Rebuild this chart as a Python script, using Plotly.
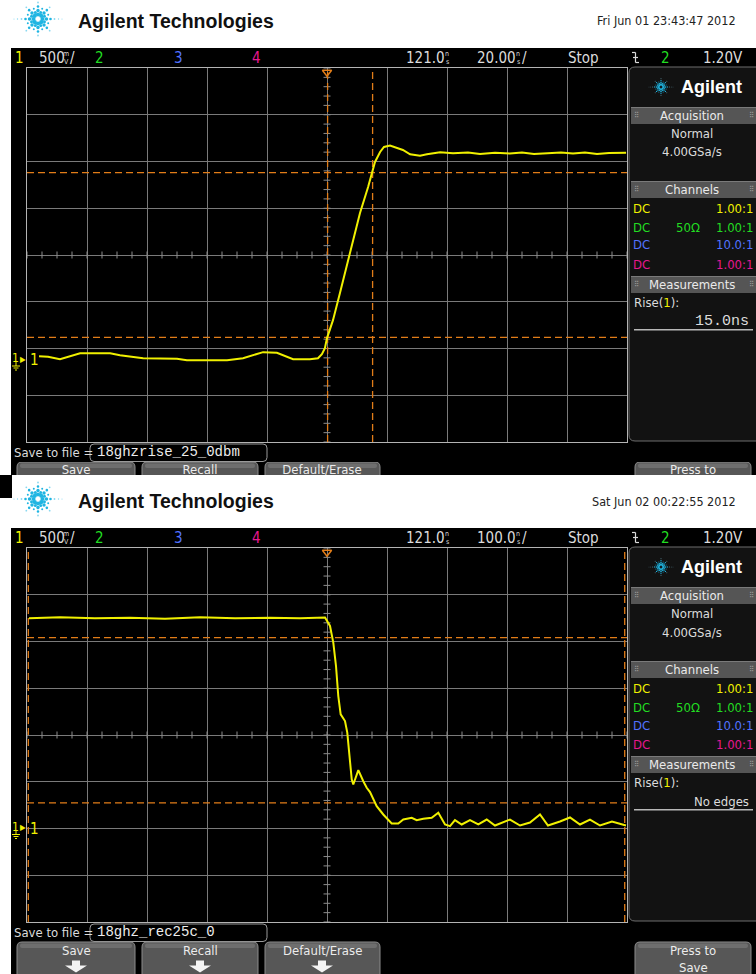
import numpy as np
import plotly.graph_objects as go

W, H = 756, 974

# ---------------- data ----------------
# upper capture: 20 ns/div, 500 mV/div, rising edge
top_t = [25.0, 28.0, 32.0, 38.7, 48.7, 52.0, 59.7, 71.0, 74.3, 87.7, 93.0, 99.7, 104.3, 109.7,
         115.3, 118.0, 119.3, 120.3, 121.0, 123.0, 125.3, 128.7, 132.0, 134.7, 137.0, 138.7,
         140.0, 142.0, 144.3, 146.3, 148.7, 152.0, 154.3, 158.7, 163.0, 168.0, 172.0, 177.0,
         182.0, 186.0, 190.0, 195.0, 199.0, 203.0, 207.0, 211.0, 215.0, 220.7]
top_v = [0.043, 0.037, 0.011, 0.075, 0.075, 0.054, 0.021, 0.016, 0.000, 0.000, 0.021, 0.086,
         0.080, 0.011, 0.011, 0.021, 0.064, 0.128, 0.236, 0.428, 0.717, 1.146, 1.574, 1.852,
         2.120, 2.227, 2.281, 2.295, 2.267, 2.248, 2.202, 2.187, 2.202, 2.224, 2.213, 2.220,
         2.205, 2.218, 2.210, 2.220, 2.205, 2.215, 2.220, 2.210, 2.222, 2.205, 2.215, 2.218]
top_levels = [0.243, 2.005]        # measurement thresholds (V)
top_cursors = [121.2, 136.2]       # measurement time markers (ns)

# lower capture: 100 ns/div, 500 mV/div, falling edge
bot_t = [-375.7, -324.0, -265.7, -207.3, -149.0, -90.7, -32.3, 26.0, 76.0, 117.7, 126.0, 131.5,
         136.0, 139.8, 143.8, 151.0, 154.8, 158.2, 162.2, 164.8, 169.3, 173.2, 181.5, 187.2,
         192.7, 203.8, 214.8, 228.8, 239.8, 248.2, 262.2, 270.5, 281.5, 295.5, 306.5, 317.7,
         326.0, 334.3, 345.5, 359.3, 373.2, 387.2, 401.0, 409.3, 426.0, 442.7, 459.3, 476.0,
         489.3, 509.3, 526.0, 542.7, 559.3, 576.0, 596.0, 619.3]
bot_v = [2.248, 2.259, 2.248, 2.254, 2.243, 2.259, 2.248, 2.254, 2.248, 2.256, 2.166, 1.988,
         1.738, 1.417, 1.221, 1.149, 1.025, 0.774, 0.525, 0.471, 0.560, 0.624, 0.506, 0.436,
         0.389, 0.239, 0.150, 0.054, 0.054, 0.096, 0.115, 0.089, 0.104, 0.115, 0.168, 0.043,
         0.025, 0.089, 0.043, 0.089, 0.043, 0.096, 0.032, 0.054, 0.096, 0.032, 0.064, 0.150,
         0.032, 0.075, 0.118, 0.043, 0.096, 0.032, 0.075, 0.032]
bot_levels = [0.275, 2.042]
bot_cursors = [-376.8, 617.2]

top_xrange, top_yrange = [21, 221], [-0.875, 3.125]
bot_xrange, bot_yrange = [-379, 621], [-1.0, 3.0]
top_tdiv, bot_tdiv, vdiv = 20, 100, 0.5
trig_t = 121.0

button_labels = ["Save", "Recall", "Default/Erase", "Press to"]

# ---------------- helpers ----------------
NARROW = "Liberation Sans Narrow, DejaVu Sans Condensed, Arial Narrow, sans-serif"
MONO = "Liberation Mono, DejaVu Sans Mono, monospace"
SANS = "Liberation Sans, Arial, sans-serif"
YEL, GRN, BLU, MAG = "#f0f000", "#22dd22", "#5272ff", "#e5178f"
ORANGE = "#e27d18"
LIGHT = "#dcdcdc"

def X(p): return p / W
def Y(p): return 1 - p / H

shapes, anns = [], []

def rect(x0, y0, x1, y1, fill, line=None, lw=0, layer="below"):
    shapes.append(dict(type="rect", xref="paper", yref="paper", x0=X(x0), x1=X(x1),
                       y0=Y(y1), y1=Y(y0), fillcolor=fill,
                       line=dict(color=line or fill, width=lw), layer=layer))

def rrect(x0, y0, x1, y1, r, fill, line, lw=1, layer="below", ref=None):
    fx, fy = (X, Y) if ref is None else ((lambda v: v), (lambda v: v))
    p = (f"M {fx(x0+r)},{fy(y0)} L {fx(x1-r)},{fy(y0)} Q {fx(x1)},{fy(y0)} {fx(x1)},{fy(y0+r)} "
         f"L {fx(x1)},{fy(y1-r)} Q {fx(x1)},{fy(y1)} {fx(x1-r)},{fy(y1)} L {fx(x0+r)},{fy(y1)} "
         f"Q {fx(x0)},{fy(y1)} {fx(x0)},{fy(y1-r)} L {fx(x0)},{fy(y0+r)} Q {fx(x0)},{fy(y0)} {fx(x0+r)},{fy(y0)} Z")
    xr, yr = ("paper", "paper") if ref is None else ref
    shapes.append(dict(type="path", xref=xr, yref=yr, path=p, fillcolor=fill,
                       line=dict(color=line, width=lw), layer=layer))

def poly(pts, fill, layer="below"):
    p = "M " + " L ".join(f"{X(a)},{Y(b)}" for a, b in pts) + " Z"
    shapes.append(dict(type="path", xref="paper", yref="paper", path=p, fillcolor=fill,
                       line=dict(color=fill, width=0), layer=layer))

def seg(x0, y0, x1, y1, color, w=1):
    shapes.append(dict(type="line", xref="paper", yref="paper", x0=X(x0), y0=Y(y0),
                       x1=X(x1), y1=Y(y1), line=dict(color=color, width=w), layer="above"))

def dot(x, y, d, color):
    shapes.append(dict(type="circle", xref="paper", yref="paper", x0=X(x-d/2), x1=X(x+d/2),
                       y0=Y(y+d/2), y1=Y(y-d/2), fillcolor=color,
                       line=dict(width=0), layer="above"))

def text(x, y, s, size=13, color=LIGHT, anchor="left", family=NARROW, pad=0):
    anns.append(dict(xref="paper", yref="paper", x=X(x), y=Y(y), text=s, showarrow=False,
                     xanchor=anchor, yanchor="middle", borderpad=pad,
                     font=dict(size=size, color=color, family=family)))

def logo(cx, cy, s, c1="#1fb5e2", c2="#8ad8f0"):
    for ang in range(0, 360, 45):
        a = np.radians(ang)
        radii = [4.5, 8.5, 12.5, 16.5]
        sizes = [4.2, 3.4, 2.6, 1.8]
        if ang % 180 == 0:
            radii += [20.5, 24]
            sizes += [1.4, 1.1]
        for k, (r, d) in enumerate(zip(radii, sizes)):
            dot(cx + s*r*np.cos(a), cy - s*r*np.sin(a), s*d, c1 if k < 3 else c2)
    for ang in np.arange(22.5, 360, 45):
        a = np.radians(ang)
        for r, d in zip([7.0, 11.0], [3.0, 2.0]):
            dot(cx + s*r*np.cos(a), cy - s*r*np.sin(a), s*d, c1)

BTN_X = [(17, 135), (142, 258), (265, 380), (635, 751)]
BTN_CX = [76, 200, 322, 693]

def button(x0, x1, y0, y1, ref=None):
    rrect(x0, y0, x1, y1, 5, "#575757", "#8c8c8c", 1, ref=ref)
    rrect(x0+3, y0+1.5, x1-3, y0+6, 2, "#6e6e6e", "#6e6e6e", 0, ref=ref)

def arrow(cx, cy):
    poly([(cx-4, cy-6), (cx+4, cy-6), (cx+4, cy-1), (cx+11, cy-1), (cx, cy+6),
          (cx-11, cy-1), (cx-4, cy-1)], "#f4f4f4")

def header(oy, date):
    logo(38, 19+oy, 1.0)
    text(77, 21+oy, "<b>Agilent Technologies</b>", 19.5, "#111111", family=SANS)
    text(737, 21+oy, date, 12.5, "#222222", anchor="right")

def screen(oy, tdiv_txt, filename, meas, meas_family):
    rect(11, 48+oy, 760, 476 if oy == 0 else 980, "#000000")
    # status bar
    sy = 57.5 + oy
    text(14, sy, "1", 15, YEL)
    text(38, sy, "500", 15)
    text(62, sy-4, "m", 7)
    text(62.5, sy+4, "V", 7)
    text(69, sy, "/", 15)
    text(94, sy, "2", 15, GRN)
    text(173, sy, "3", 15, BLU)
    text(251, sy, "4", 15, MAG)
    text(405, sy, "121.0", 15)
    text(444.5, sy-4, "n", 7)
    text(445, sy+4, "s", 7)
    text(476, sy, tdiv_txt, 15)
    text(515, sy-4, "n", 7)
    text(515.5, sy+4, "s", 7)
    text(521, sy, "/", 15)
    text(567, sy, "Stop", 15)
    seg(632, sy-5, 635.5, sy-5, LIGHT, 1.2)
    seg(635.5, sy-5, 635.5, sy+5, LIGHT, 1.2)
    seg(635.5, sy+5, 639, sy+5, LIGHT, 1.2)
    seg(633, sy, 638, sy, LIGHT, 1.2)
    text(660, sy, "2", 15, GRN)
    text(702, sy, "1.20V", 15)
    # right panel
    rrect(629, 67+oy, 772, 441+oy, 6, "#121212", "#6c6c6c", 1)
    logo(661, 87+oy, 0.5)
    text(680, 87+oy, "<b>Agilent</b>", 18, "#ffffff", family=SANS)
    for (b0, b1, lab) in [(107, 124, "Acquisition"), (181, 198, "Channels"),
                          (276, 293, "Measurements")]:
        rect(631, b0+oy, 760, b1+oy, "#555555")
        rect(631, b0+oy, 760, b0+1+oy, "#7a7a7a")
        text(692, (b0+b1)/2+oy, lab, 13, "#eaeaea", anchor="center")
        text(636, (b0+b1)/2+oy, "⠿", 8, "#9a9a9a", anchor="center")
        text(751, (b0+b1)/2+oy, "⠿", 8, "#9a9a9a", anchor="center")
    text(692, 133+oy, "Normal", 13, anchor="center")
    text(692, 152+oy, "4.00GSa/s", 13, anchor="center")
    for ry, col, ratio in [(208, YEL, "1.00:1"), (227, GRN, "1.00:1"),
                           (245, BLU, "10.0:1"), (264, MAG, "1.00:1")]:
        text(632, ry+oy, "DC", 13, col)
        text(754, ry+oy, ratio, 13, col, anchor="right")
    text(688, 227+oy, "50Ω", 13, GRN, anchor="center")
    text(633, 302+oy, f"Rise(<span style='color:{YEL}'>1</span>):", 13)
    text(752, 321+oy, meas, 15 if meas_family == MONO else 13, family=meas_family,
         anchor="right", pad=2)
    rect(634, 329+oy, 753, 330.5+oy, "#b8b8b8")
    # save row
    text(12, 452.5+oy, "Save to file =", 13, pad=1)
    rrect(90, 444+oy, 267, 461.5+oy, 4, "#000000", "#9a9a9a", 1)
    text(93, 452+oy, filename, 14, "#ececec", family=MONO, pad=3)

# ---- build ----
header(0, "Fri Jun 01 23:43:47 2012")
screen(0, "20.00", "18ghzrise_25_0dbm", "15.0ns", MONO)
rect(12, 475, 760, 529, "#ffffff")
rect(0, 475, 12, 498, "#000000")
header(480, "Sat Jun 02 00:22:55 2012")
screen(480, "100.0", "18ghz_rec25c_0", "No edges", NARROW)

# upper capture's buttons: clipped by a small pixel-unit subplot (x3/y3)
for (bx0, bx1) in BTN_X:
    button(bx0, bx1, 462, 500, ref=("x3", "y3"))
# lower capture's buttons
for (bx0, bx1) in BTN_X:
    button(bx0, bx1, 942, 990)
for cx, lab in zip(BTN_CX, button_labels):
    text(cx, 950, lab, 13, "#ececec", anchor="center")
for cx in BTN_CX[:3]:
    arrow(cx, 966.5)
text(BTN_CX[3], 967, "Save", 13, "#ececec", anchor="center")

# ground markers
for gy in (360, 828.5):
    text(10.5, gy-2, "1", 12, YEL)
    text(18.5, gy-1, "▶", 8, YEL)
    text(29, gy, "1", 15, YEL)
    seg(16, gy+2, 16, gy+6, YEL, 1)
    seg(12, gy+6, 20, gy+6, YEL, 1)
    seg(13.5, gy+8, 18.5, gy+8, YEL, 1)
    seg(15, gy+10, 17, gy+10, YEL, 1)

fig = go.Figure()

for xa, ya, xr, yr, td, levels, curs in [
        ("x", "y", top_xrange, top_yrange, top_tdiv, top_levels, top_cursors),
        ("x2", "y2", bot_xrange, bot_yrange, bot_tdiv, bot_levels, bot_cursors)]:
    yc = (yr[0] + yr[1]) / 2
    xt = np.arange(xr[0], xr[1] + 1e-9, td / 4)
    yt = np.arange(yr[0], yr[1] + 1e-9, vdiv / 5)
    # centre-line minor tick marks
    fig.add_trace(go.Scatter(x=xt, y=[yc]*len(xt), mode="markers", xaxis=xa, yaxis=ya,
                             marker=dict(symbol="line-ns", size=5, line=dict(color="#8c8c8c", width=1)),
                             hoverinfo="skip"))
    fig.add_trace(go.Scatter(x=[trig_t]*len(yt), y=yt, mode="markers", xaxis=xa, yaxis=ya,
                             marker=dict(symbol="line-ew", size=5, line=dict(color="#8c8c8c", width=1)),
                             hoverinfo="skip"))
    # measurement cursors
    for lv in levels:
        fig.add_trace(go.Scatter(x=xr, y=[lv, lv], mode="lines", xaxis=xa, yaxis=ya,
                                 line=dict(color=ORANGE, width=1.3, dash="7px,4px"), hoverinfo="skip"))
    for c in curs:
        fig.add_trace(go.Scatter(x=[c, c], y=yr, mode="lines", xaxis=xa, yaxis=ya,
                                 line=dict(color=ORANGE, width=1.3, dash="7px,4px"), hoverinfo="skip"))
    # trigger position marker
    fig.add_trace(go.Scatter(x=[trig_t], y=[yr[1] - 0.045], mode="markers", xaxis=xa, yaxis=ya,
                             marker=dict(symbol="triangle-down-open", size=8, color=ORANGE,
                                         line=dict(color=ORANGE, width=1.5)),
                             cliponaxis=False, hoverinfo="skip"))

# waveforms
fig.add_trace(go.Scatter(x=top_t, y=top_v, mode="lines", line=dict(color=YEL, width=2),
                         xaxis="x", yaxis="y", hoverinfo="skip"))
fig.add_trace(go.Scatter(x=bot_t, y=bot_v, mode="lines", line=dict(color=YEL, width=2),
                         xaxis="x2", yaxis="y2", hoverinfo="skip"))

# clipped labels of the upper capture's buttons
fig.add_trace(go.Scatter(x=BTN_CX, y=[470.5]*4, mode="text", text=button_labels,
                         textposition="middle center", cliponaxis=True,
                         textfont=dict(size=13, color="#ececec", family=NARROW),
                         xaxis="x3", yaxis="y3", hoverinfo="skip"))

ax = dict(showticklabels=False, ticks="", zeroline=False, showgrid=True, gridcolor="#7a7a7a",
          gridwidth=1, showline=True, linecolor="#b4b4b4", linewidth=1, mirror=True,
          fixedrange=True)
hid = dict(visible=False, showgrid=False, zeroline=False, fixedrange=True)
fig.update_layout(
    width=W, height=H, margin=dict(l=0, r=0, t=0, b=0), showlegend=False,
    paper_bgcolor="#ffffff", plot_bgcolor="#000000",
    xaxis=dict(ax, domain=[X(27), X(627)], range=top_xrange, tick0=top_xrange[0], dtick=top_tdiv, anchor="y"),
    yaxis=dict(ax, domain=[Y(442), Y(68)], range=top_yrange, tick0=top_yrange[0], dtick=vdiv, anchor="x"),
    xaxis2=dict(ax, domain=[X(27), X(627)], range=bot_xrange, tick0=bot_xrange[0], dtick=bot_tdiv, anchor="y2"),
    yaxis2=dict(ax, domain=[Y(922), Y(548)], range=bot_yrange, tick0=bot_yrange[0], dtick=vdiv, anchor="x2"),
    xaxis3=dict(hid, domain=[X(11), 1], range=[11, W], anchor="y3"),
    yaxis3=dict(hid, domain=[Y(475), Y(462)], range=[475, 462], anchor="x3"),
    shapes=shapes, annotations=anns,
)
fig.write_html("out.html", config={"displayModeBar": False, "staticPlot": True},
               post_script="document.body.style.margin='0';document.body.style.overflow='hidden';")
